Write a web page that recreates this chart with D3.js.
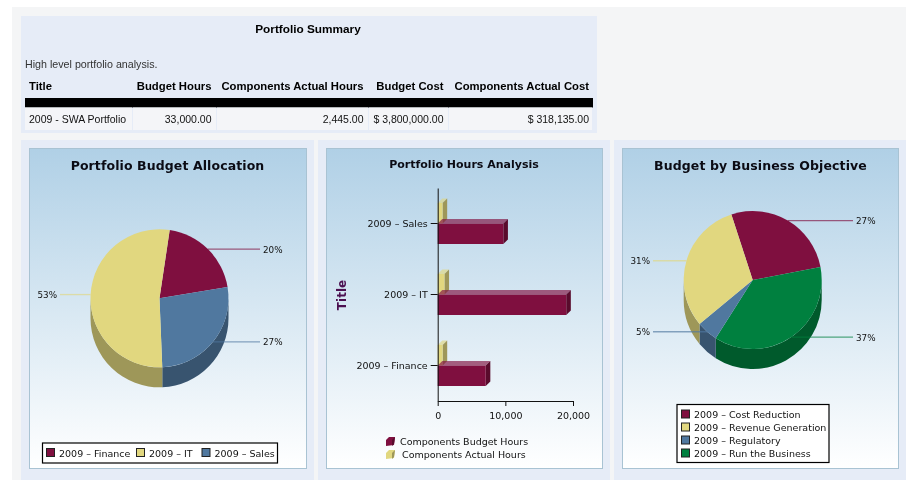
<!DOCTYPE html>
<html>
<head>
<meta charset="utf-8">
<title>Portfolio Summary</title>
<script src="https://cdn.jsdelivr.net/npm/d3@7"></script>
<style>
	html, body { margin: 0; padding: 0; background: #fff; }
	svg { display: block; filter: blur(0.3px); }
	text { font-family: "DejaVu Sans", sans-serif; fill: #111; }
	.table text { font-family: "Liberation Sans", Arial, sans-serif; font-size: 10.5px; }
	.table .head { font-weight: bold; fill: #000; font-size: 11.3px; }
	.chartTitle { font-weight: bold; text-anchor: middle; fill: #0b0b14; }
	.small { font-size: 9.5px; fill: #111; }
	.percent { font-size: 8.8px; fill: #111; }
</style>
</head>
<body>
<svg id="page" width="906" height="480"></svg>
<script>
// summary table
const tableHeaders = ["Title", "Budget Hours", "Components Actual Hours", "Budget Cost", "Components Actual Cost"];
const tableRow = ["2009 - SWA Portfolio", "33,000.00", "2,445.00", "$ 3,800,000.00", "$ 318,135.00"];

// budget allocation pie
const allocationNames = ["2009 – Finance", "2009 – IT", "2009 – Sales"];
const allocationValues = [20, 53, 27];
const allocationColors = ["#7f0f3f", "#e1d77f", "#50789f"];
const allocationOrder = [0, 2, 1];	// clockwise order on the pie

// hours bars
const hoursCategories = ["2009 – Sales", "2009 – IT", "2009 – Finance"];
const budgetHours = [9700, 19000, 7100];
const actualHours = [720, 1000, 725];
const hoursTicks = [0, 10000, 20000];
const hoursSeries = ["Components Budget Hours", "Components Actual Hours"];

// objective pie
const objectiveNames = ["2009 – Cost Reduction", "2009 – Revenue Generation", "2009 – Regulatory", "2009 – Run the Business"];
const objectiveValues = [27, 31, 5, 37];
const objectiveColors = ["#7f0f3f", "#e1d77f", "#50789f", "#00803f"];
const objectiveOrder = [0, 3, 2, 1];

const svg = d3.select("#page");
const defs = svg.append("defs");
const gradient = defs.append("linearGradient")
	.attr("id", "chartBg")
	.attr("x1", 0).attr("y1", 0).attr("x2", 0).attr("y2", 1);
gradient.append("stop").attr("offset", "0%").attr("stop-color", "#b0d0e6");
gradient.append("stop").attr("offset", "100%").attr("stop-color", "#ffffff");

function rect(parent, x, y, w, h, fill, stroke){
	return parent.append("rect")
		.attr("x", x).attr("y", y)
		.attr("width", w).attr("height", h)
		.attr("fill", fill)
		.attr("stroke", stroke || "none");
}

/* ------------------------ PAGE ------------------------ */

rect(svg, 12, 7, 894, 473, "#f4f5f6");
rect(svg, 21, 16, 576, 117, "#e6ecf7");
rect(svg, 21, 140, 293, 340, "#e6ecf7");
rect(svg, 318, 140, 292, 340, "#e6ecf7");
rect(svg, 614, 140, 292, 340, "#e6ecf7");

function chartFrame(x, width){
	rect(svg, x + 0.5, 148.5, width, 320, "url(#chartBg)", "#a9c3d3");
}
chartFrame(29, 277);
chartFrame(326, 276);
chartFrame(622, 276);

function chartTitle(label, x, y, size, spacing){
	svg.append("text")
		.attr("class", "chartTitle")
		.attr("x", x).attr("y", y)
		.style("font-size", size + "px")
		.style("letter-spacing", spacing + "px")
		.text(label);
}

/* ------------------------ TABLE ----------------------- */

const table = svg.append("g").attr("class", "table");
const colLeft = [25, 133, 217, 369, 449];
const colRight = [133, 211.5, 363.5, 443.5, 589];

table.append("text")
	.attr("class", "head")
	.attr("x", 308).attr("y", 32.5)
	.attr("text-anchor", "middle")
	.style("font-size", "11.8px")
	.text("Portfolio Summary");

table.append("text")
	.attr("x", 25).attr("y", 68)
	.style("font-size", "10.7px")
	.style("fill", "#333")
	.text("High level portfolio analysis.");

rect(table, 25, 98, 568, 9.5, "#000");
table.selectAll(".cell")
	.data(colLeft)
	.enter().append("rect")
	.attr("class", "cell")
	.attr("x", d => d)
	.attr("y", 107.5)
	.attr("width", (d, i) => (i < 4 ? colLeft[i + 1] : 593) - d - 1)
	.attr("height", 22.5)
	.attr("fill", "#f4f5f8");

table.selectAll(".head.col")
	.data(tableHeaders)
	.enter().append("text")
	.attr("class", "head col")
	.attr("y", 90)
	.attr("x", (d, i) => i == 0 ? 29 : colRight[i])
	.attr("text-anchor", (d, i) => i == 0 ? "start" : "end")
	.text(d => d);

table.selectAll(".val")
	.data(tableRow)
	.enter().append("text")
	.attr("class", "val")
	.attr("y", 123)
	.attr("x", (d, i) => i == 0 ? 29 : colRight[i])
	.attr("text-anchor", (d, i) => i == 0 ? "start" : "end")
	.text(d => d);

/* ------------------------ PIES ------------------------ */

function drawPie(cx, cy, startDeg, values, colors, order, labelLeft, labelRight){
	const radius = 69, depth = 20;
	const start = startDeg * Math.PI / 180;
	const ordered = order.map(i => ({ value: values[i], color: colors[i] }));
	const arcs = d3.pie()
		.value(d => d.value)
		.sort(null)
		.startAngle(start)
		.endAngle(start + 2 * Math.PI)(ordered);

	const g = svg.append("g").attr("transform", "translate(" + cx + "," + cy + ")");

	// side wall, only the part facing the front
	arcs.forEach(a => {
		for(let turn = 0; turn <= 1; turn++){
			let a0 = Math.max(a.startAngle, Math.PI / 2 + turn * 2 * Math.PI);
			let a1 = Math.min(a.endAngle, 3 * Math.PI / 2 + turn * 2 * Math.PI);
			if(a1 <= a0) continue;
			let p = d3.path();
			let t0 = a0 - Math.PI / 2, t1 = a1 - Math.PI / 2;
			p.arc(0, 0, radius, t0, t1);
			p.lineTo(radius * Math.cos(t1), radius * Math.sin(t1) + depth);
			p.arc(0, depth, radius, t1, t0, true);
			p.closePath();
			g.append("path").attr("d", p.toString()).attr("fill", d3.rgb(a.data.color).darker(1));
		}
	});

	const arc = d3.arc().innerRadius(0).outerRadius(radius);
	g.selectAll(".slice")
		.data(arcs)
		.enter().append("path")
		.attr("class", "slice")
		.attr("d", arc)
		.attr("fill", d => d.data.color);

	// leader lines start at the middle of each slice rim
	arcs.forEach(a => {
		let mid = (a.startAngle + a.endAngle) / 2;
		let px = radius * Math.sin(mid), py = -radius * Math.cos(mid);
		let right = px > 0;
		let endX = (right ? labelRight : labelLeft) - cx;
		g.append("line")
			.attr("x1", px).attr("y1", py)
			.attr("x2", endX).attr("y2", py)
			.attr("stroke", a.data.color)
			.attr("stroke-opacity", 0.65)
			.attr("stroke-width", 1.3);
		g.append("text")
			.attr("class", "percent")
			.attr("x", endX + (right ? 3 : -3))
			.attr("y", py + 3.5)
			.attr("text-anchor", right ? "start" : "end")
			.text(a.data.value + "%");
	});
}

function swatch(x, y, color){
	rect(svg, x + 0.5, y + 0.5, 8, 8, color, "#222");
}

function legendBox(x, y, w, h){
	rect(svg, x, y, w, h, "#fff", "#000").attr("stroke-width", 1.2);
}

chartTitle("Portfolio Budget Allocation", 167.5, 170, 12.5, 0.1);
drawPie(159.5, 298.3, 8.5, allocationValues, allocationColors, allocationOrder, 60, 260);

legendBox(42.5, 443, 235, 20);
const allocationLegendX = [46, 136, 201.5];
allocationNames.forEach((name, i) => {
	swatch(allocationLegendX[i], 448, allocationColors[i]);
	svg.append("text")
		.attr("class", "small")
		.attr("x", allocationLegendX[i] + 13)
		.attr("y", 456.5)
		.text(name);
});

chartTitle("Budget by Business Objective", 760.5, 170, 12.5, 0.1);
drawPie(752.7, 280, -18, objectiveValues, objectiveColors, objectiveOrder, 653, 853);

legendBox(677, 404.5, 152, 58);
objectiveNames.forEach((name, i) => {
	swatch(681, 409.5 + i * 13, objectiveColors[i]);
	svg.append("text")
		.attr("class", "small")
		.attr("x", 694)
		.attr("y", 417.5 + i * 13)
		.text(name);
});

/* ------------------------ BARS ------------------------ */

chartTitle("Portfolio Hours Analysis", 464, 167.5, 11, 0);

const x = d3.scaleLinear().domain([0, 20000]).range([437.7, 573]);
const y = d3.scaleBand().domain(hoursCategories).range([188, 401]);
const barHeight = 20.5, offset = 4.6;
const budgetColor = "#7f0f3f", actualColor = "#e1d77f";

function bar3d(parent, value, top, color){
	let x1 = x(value), x0 = x(0);
	let c = d3.rgb(color);
	parent.append("polygon")
		.attr("points", [[x0, top], [x0 + offset, top - offset], [x1 + offset, top - offset], [x1, top]].join(" "))
		.attr("fill", c.copy({ opacity: 0.65 }));
	parent.append("polygon")
		.attr("points", [[x1, top], [x1 + offset, top - offset], [x1 + offset, top - offset + barHeight], [x1, top + barHeight]].join(" "))
		.attr("fill", c.darker(1));
	rect(parent, x0, top, x1 - x0, barHeight, color);
}

const bars = svg.append("g");
hoursCategories.forEach((cat, i) => {
	let mid = y(cat) + y.bandwidth() / 2;
	bar3d(bars, actualHours[i], mid - barHeight, actualColor);
	bar3d(bars, budgetHours[i], mid, budgetColor);
});

const yAxis = svg.append("g")
	.attr("transform", "translate(437.7,0)")
	.call(d3.axisLeft(y).tickSizeInner(7).tickSizeOuter(0).tickPadding(3));
const xAxis = svg.append("g")
	.attr("transform", "translate(0,401)")
	.call(d3.axisBottom(x).tickValues(hoursTicks).tickFormat(d3.format(",")).tickSizeInner(5).tickSizeOuter(0).tickPadding(6));
[yAxis, xAxis].forEach(axis => {
	axis.attr("font-family", null).attr("font-size", null);
	axis.selectAll("text").attr("class", "small");
	axis.selectAll("line, path").attr("stroke", "#111");
});

svg.append("text")
	.attr("transform", "translate(346,295) rotate(-90)")
	.attr("text-anchor", "middle")
	.style("font-weight", "bold")
	.style("font-size", "12px")
	.style("fill", "#4b0f50")
	.text("Title");

const hoursLegendX = [400, 402];
const hoursLegendColors = [budgetColor, actualColor];
hoursSeries.forEach((name, i) => {
	let top = 437 + i * 13;
	let c = d3.rgb(hoursLegendColors[i]);
	svg.append("polygon")
		.attr("points", [[386, top + 3], [389, top], [395, top], [394, top + 8], [386, top + 9]].join(" "))
		.attr("fill", c);
	svg.append("polygon")
		.attr("points", [[392, top + 3], [395, top], [394, top + 7], [392, top + 9]].join(" "))
		.attr("fill", c.darker(1));
	svg.append("text")
		.attr("class", "small")
		.attr("x", hoursLegendX[i])
		.attr("y", top + 7.5)
		.text(name);
});
</script>
</body>
</html>
